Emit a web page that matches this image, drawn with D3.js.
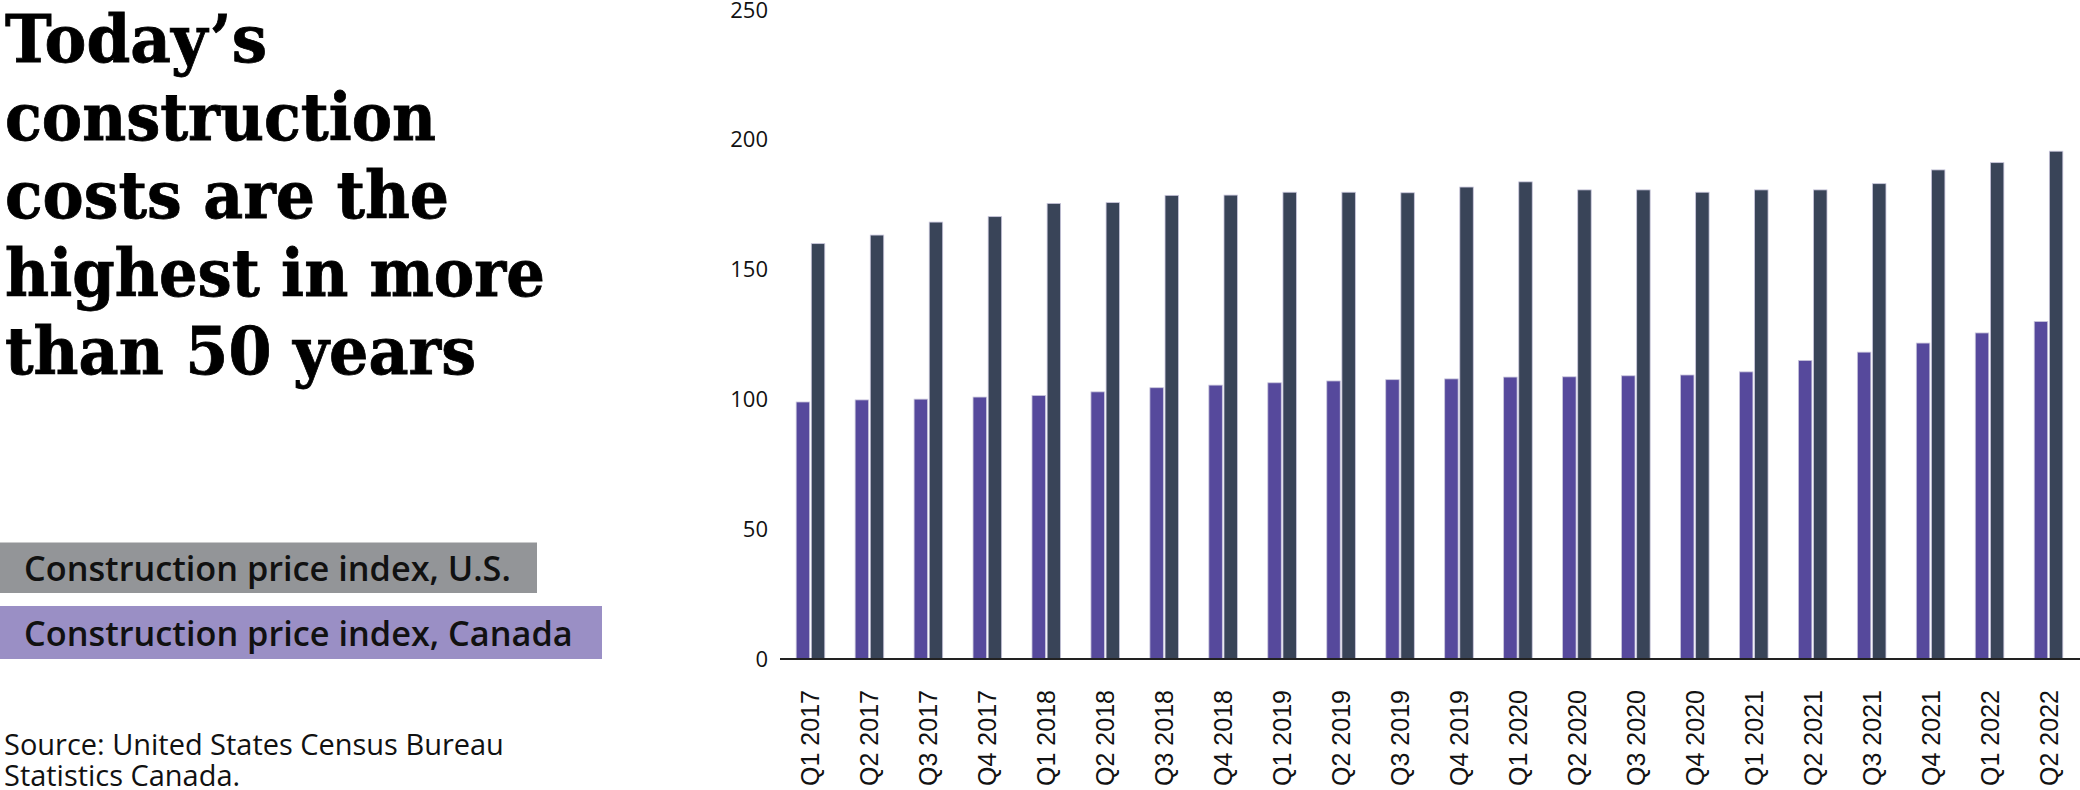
<!DOCTYPE html>
<html><head><meta charset="utf-8">
<script src="https://cdn.jsdelivr.net/npm/d3@7"></script>
<style>
html,body{margin:0;padding:0;background:#fff;}
svg{display:block;}
</style></head>
<body>
<svg id="chart" width="2080" height="790"></svg>
<script>
const categories = ["Q1 2017","Q2 2017","Q3 2017","Q4 2017","Q1 2018","Q2 2018","Q3 2018","Q4 2018","Q1 2019","Q2 2019","Q3 2019","Q4 2019","Q1 2020","Q2 2020","Q3 2020","Q4 2020","Q1 2021","Q2 2021","Q3 2021","Q4 2021","Q1 2022","Q2 2022"];
const canadaValues = [99.0,99.8,100.1,100.9,101.5,102.9,104.5,105.5,106.4,107.1,107.6,107.9,108.6,108.7,109.1,109.4,110.6,115.0,118.2,121.7,125.6,130.0];
const usValues = [160.0,163.3,168.3,170.4,175.5,175.8,178.6,178.7,179.8,179.8,179.6,181.8,183.8,180.7,180.7,179.8,180.7,180.7,183.1,188.4,191.2,195.6];
const yTicks = [0,50,100,150,200,250];
const seriesNames = ["Construction price index, Canada","Construction price index, U.S."];
const titleLines = ["Today\u2019s","construction","costs are the","highest in more","than 50 years"];
const sourceLines = ["Source: United States Census Bureau","Statistics Canada."];

const svg = d3.select("#chart");

// scales
const x0 = d3.scaleBand().domain(categories).range([781, 2078]).padding(0);
const pair = 28.6;
const x1 = d3.scaleBand().domain(["ca","us"])
  .range([x0.bandwidth()/2 - pair/2, x0.bandwidth()/2 + pair/2]).paddingInner(0.11);
const y = d3.scaleLinear().domain([0,250]).range([659,10]);
const color = {ca:"#56499c", us:"#394458"};

// y axis labels
const yAxis = d3.axisLeft(y).tickValues(yTicks).tickSize(0).tickPadding(0);
const gy = svg.append("g").attr("transform","translate(768,0)").call(yAxis);
gy.select(".domain").remove();
gy.selectAll("text").attr("font-family","'Open Sans'").attr("font-size",22).attr("fill","#111");

// bars
const rows = categories.map((c,i)=>({c, ca:canadaValues[i], us:usValues[i]}));
const groups = svg.append("g").selectAll("g").data(rows).join("g")
  .attr("transform", d=>`translate(${x0(d.c)},0)`);
groups.selectAll("rect").data(d=>["ca","us"].map(k=>({k, v:d[k]}))).join("rect")
  .attr("x", d=>x1(d.k)).attr("width", x1.bandwidth())
  .attr("y", d=>y(d.v)).attr("height", d=>y(0)-y(d.v))
  .attr("fill", d=>color[d.k])
  .attr("stroke","#c9c6dc").attr("stroke-width",0.8);

// x axis
const xAxis = d3.axisBottom(x0).tickSize(0).tickPadding(0);
const gx = svg.append("g").attr("transform",`translate(0,${y(0)})`).call(xAxis);
gx.select(".domain").attr("d","M780,0H2080").attr("stroke","#222").attr("stroke-width",2.2);
gx.selectAll(".tick text")
  .attr("font-family","'Liberation Sans', Arial, sans-serif").attr("font-size",25).attr("fill","#111")
  .attr("text-anchor","end").attr("dy",null).attr("y",0)
  .attr("transform","translate(9,31) rotate(-90)");

// title
const title = svg.append("g");
const titleBaselines = [62,140,218,296,374];
const titleWidths = [262,431,444,540,471];
titleLines.forEach((t,i)=>{
  title.append("text").attr("x",5).attr("y",titleBaselines[i])
    .attr("font-family","'DejaVu Serif'").attr("font-weight","bold").attr("font-size",65)
    .attr("textLength",titleWidths[i]).attr("lengthAdjust","spacingAndGlyphs")
    .attr("fill","#000").attr("stroke","#000").attr("stroke-width",0.8).text(t);
});

// legend
const legend = [
  {name:seriesNames[1], fill:"#939598", y:542.5, h:50.5, w:537, tw:487, base:581},
  {name:seriesNames[0], fill:"#9a8fc5", y:606, h:53, w:602, tw:549, base:646}
];
legend.forEach(l=>{
  svg.append("rect").attr("x",0).attr("y",l.y).attr("width",l.w).attr("height",l.h).attr("fill",l.fill);
  const t = svg.append("text").attr("x",24).attr("y",l.base)
    .attr("font-family","'Open Sans'").attr("font-weight",600).attr("font-size",30).attr("fill","#111").text(l.name);
  const len = t.node().getComputedTextLength();
  t.attr("font-size", 30*l.tw/len);
});

// source
const srcBase = [755,786];
let srcSize = 28;
sourceLines.forEach((s,i)=>{
  const t = svg.append("text").attr("x",4).attr("y",srcBase[i])
    .attr("font-family","'Open Sans'").attr("font-size",srcSize).attr("fill","#111").text(s);
  if(i===0){ const len=t.node().getComputedTextLength(); srcSize = 28*500/len; t.attr("font-size",srcSize); }
});
</script>
</body></html>
